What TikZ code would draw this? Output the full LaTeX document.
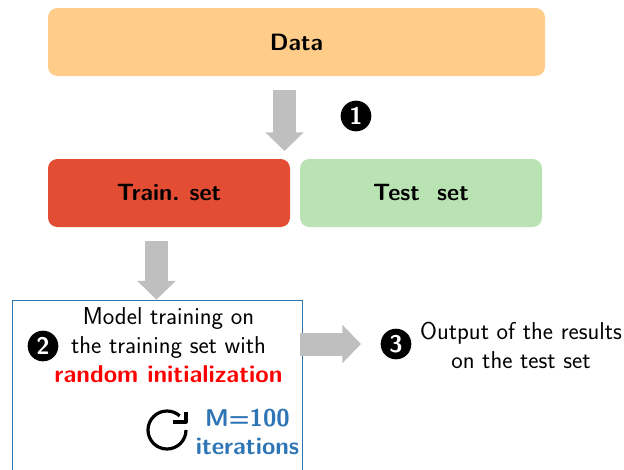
\documentclass[tikz,border=0pt]{standalone}
\usepackage{xcolor}
\usetikzlibrary{
    arrows.meta,
    positioning,
    calc
}
\definecolor{dataorange}{RGB}{255, 204, 138}
\definecolor{trainred}{RGB}{227, 77, 51}
\definecolor{testgreen}{RGB}{185, 227, 179}
\definecolor{boxblue}{RGB}{46, 117, 182}
\definecolor{arrowgray}{RGB}{191, 191, 191}
\renewcommand{\familydefault}{\sfdefault}
\tikzset{
    setbox/.style={rounded corners=7pt, minimum height=51pt, inner sep=0pt, font=\fontsize{17.7}{20}\selectfont\bfseries},
    blockarrow/.style={draw=arrowgray, line width=17.25pt, -{Triangle[width=28pt, length=14pt]}},
    stepmark/.style={circle, fill=black, text=white, inner sep=0pt, minimum size=23pt, font=\fontsize{18}{18}\selectfont\bfseries},
    bodytext/.style={align=center, inner sep=0pt, font=\fontsize{18.3}{22}\selectfont}
}
\begin{document}
\begin{tikzpicture}[x=0.75pt, y=-0.75pt]
    \useasboundingbox (0,0) rectangle (624,469);

    % Data and the two sets
    \node[setbox, fill=dataorange, minimum width=372.75pt] (data) at (296.5,42) {Data};
    \node[setbox, fill=trainred, minimum width=181.5pt] (train) at (169,193) {Train.\ \kern1pt set};
    \node[setbox, fill=testgreen, minimum width=181.5pt] (test) at (421,193) {Test\ \ set};

    % Model training box, runs off the lower edge
    \node[draw=boxblue, line width=0.6pt, minimum width=217.5pt, minimum height=135pt, inner sep=0pt] (model) at (157,390) {};
    \node[bodytext] (modeltext) at (168.5,345) {Model training on\\the training set with\\\textcolor{red}{\bfseries random initialization}};
    \node[bodytext, text=boxblue, font=\fontsize{18.2}{21}\selectfont\bfseries] (iter) at (247.5,432) {M=100\\iterations};

    % Output text
    \node[bodytext] (output) at (521,345.5) {Output of the results\\on the test set};

    % Step marks
    \node[stepmark] (one) at (356,116) {1};
    \node[stepmark] (two) at (43,346) {2};
    \node[stepmark] (three) at (396,344) {3};

    % Block arrows
    \coordinate (datafoot) at (284.5,90);
    \coordinate (trainhead) at (284.5,151);
    \coordinate (trainfoot) at (156.5,241);
    \coordinate (outputfoot) at (300,344);
    \coordinate (outputhead) at (361,344);
    \draw[blockarrow] (datafoot) -- (trainhead);
    \draw[blockarrow] (trainfoot) -- (model.north -| trainfoot);
    \draw[blockarrow] (outputfoot) -- (outputhead);

    % Loop icon
    \draw[line width=2.4pt] (186,430) arc[start angle=0, end angle=312, radius=19];
    \draw[line width=2.4pt, line join=round] (173,422) -- (186,422) -- (186,412);
\end{tikzpicture}
\end{document}
